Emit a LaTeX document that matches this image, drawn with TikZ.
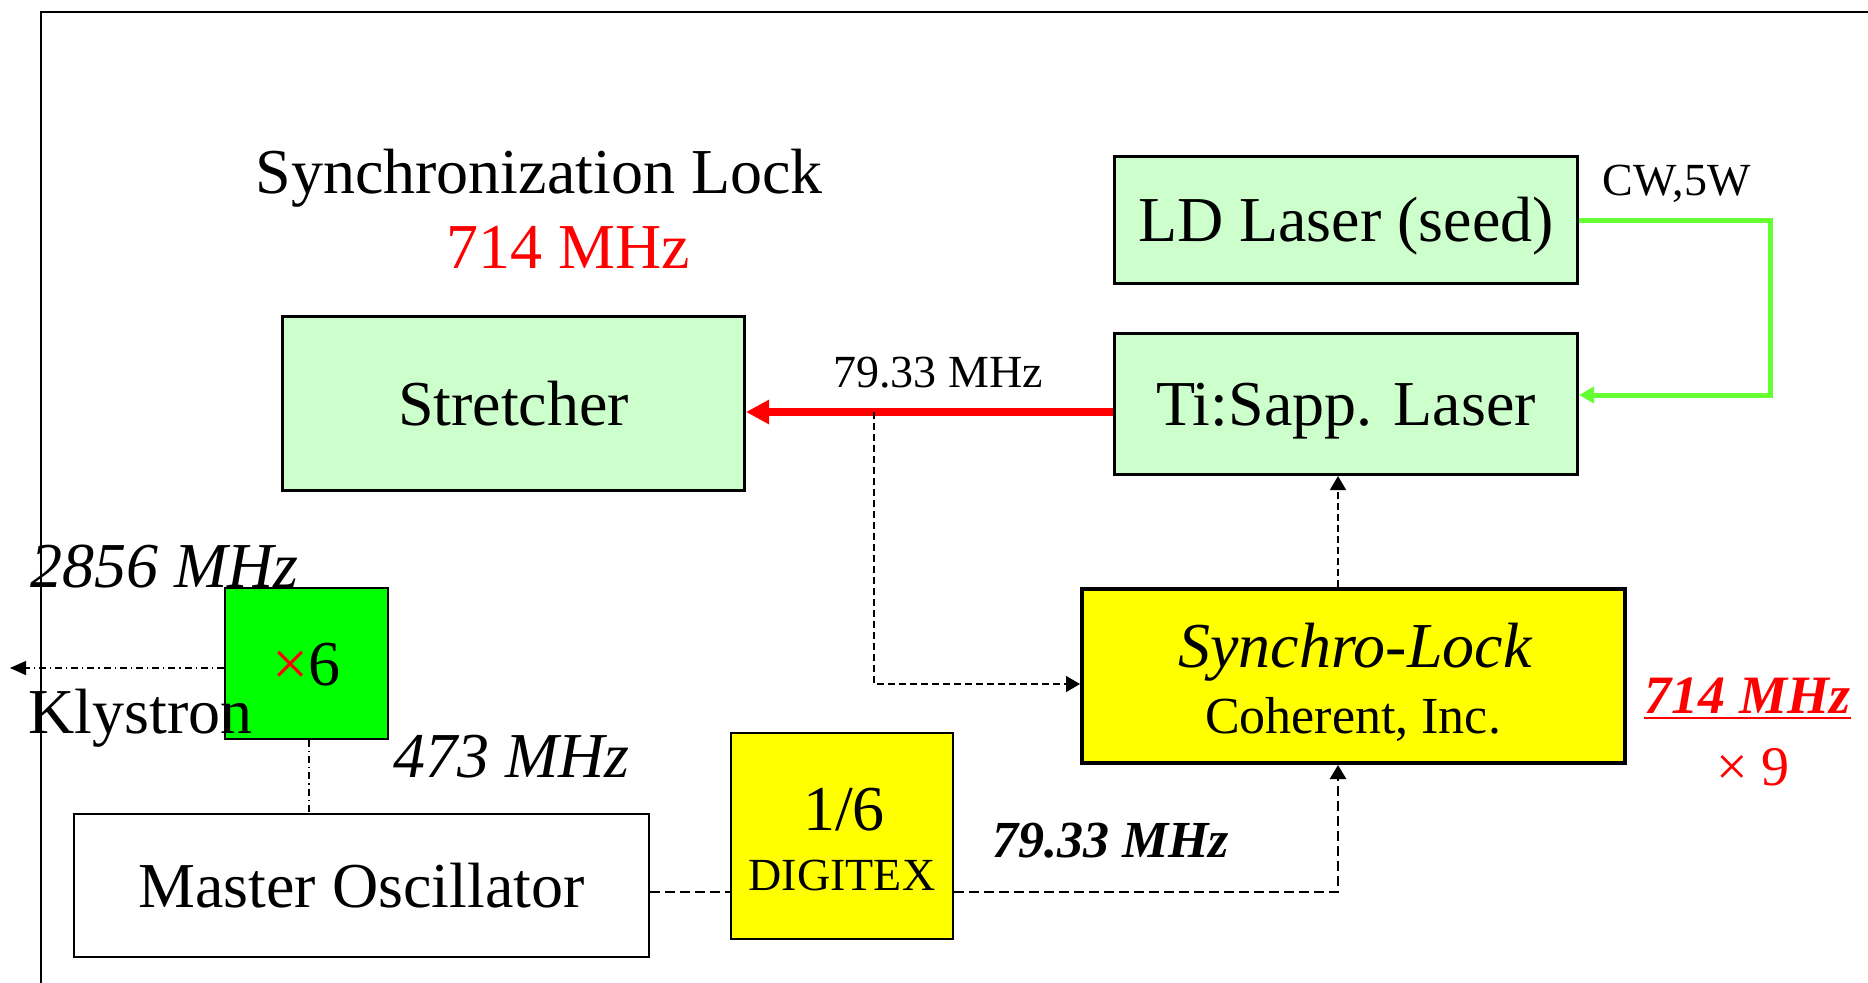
\documentclass[tikz,border=0pt]{standalone}
\usepackage{fontspec}
\setmainfont{Liberation Serif}
\usetikzlibrary{arrows.meta}
\definecolor{lgreen}{RGB}{204,255,204}
\definecolor{lime}{RGB}{102,255,51}
\definecolor{pure}{RGB}{0,255,0}
\definecolor{yel}{RGB}{255,255,0}
\definecolor{rd}{RGB}{255,0,0}
\tikzset{
  fbig/.style={font=\fontsize{32}{38}\selectfont},
  boxbase/.style={draw=black, rectangle, inner sep=0pt, text height=21.5pt, text depth=0pt, fbig},
  greenbox/.style={boxbase, fill=lgreen, line width=1.7pt},
  synbox/.style={draw=black, rectangle, inner sep=0pt, fill=yel, line width=2pt},
  digbox/.style={draw=black, rectangle, inner sep=0pt, fill=yel, line width=1pt},
  multbox/.style={boxbase, fill=pure, line width=0.85pt},
  mobox/.style={boxbase, fill=white, line width=1pt},
  lbl/.style={inner sep=0pt, anchor=base},
  lblw/.style={inner sep=0pt, anchor=base west},
  redarrow/.style={draw=rd, line width=4pt, -{Triangle[length=11.5pt,width=11.5pt]}},
  limearrow/.style={draw=lime, line width=2.5pt, -{Triangle[length=7.5pt,width=8pt]}},
  thindash/.style={line width=0.75pt, dash pattern=on 3.5pt off 2pt, -{Triangle[length=7pt,width=8pt]}},
  thickdash/.style={line width=1.25pt, dash pattern=on 5pt off 2.5pt},
  dashdot/.style={line width=0.75pt, dash pattern=on 3.5pt off 2pt on 0.6pt off 2pt},
}
\begin{document}
\begin{tikzpicture}[x=0.5pt,y=-0.5pt]
\useasboundingbox (0,0) rectangle (1868,982);
% frame
\draw[line width=1pt] (41,995) -- (41,12) -- (1880,12);
% boxes
\node[greenbox, minimum width=230.8pt, minimum height=86.8pt] (St) at (513.5,403.5) {Stretcher};
\node[greenbox, minimum width=231.3pt, minimum height=63.3pt] (LD) at (1346,220) {LD Laser (seed)};
\node[greenbox, minimum width=231.3pt, minimum height=70.3pt] (Ti) at (1346,404) {Ti:Sapp. Laser};
\node[synbox, minimum width=271.5pt, minimum height=87pt] (SL) at (1353.5,676) {};
\node[multbox, minimum width=81.6pt, minimum height=75.7pt] (G) at (306.5,663.5) {{\color{rd}×}6};
\node[mobox, minimum width=287.5pt, minimum height=71.5pt] (MO) at (361.5,885.5) {Master Oscillator};
\node[digbox, minimum width=111pt, minimum height=103pt] (DG) at (842,836) {};
% helper coordinates
\coordinate (tap) at (874,412);
\coordinate (vx) at (1338,0);
\coordinate (hy) at (0,892);
\coordinate (kl) at (10,668);
\coordinate (mx) at (309,0);
% connectors
\draw[redarrow] ([yshift=-4pt]Ti.west) -- ([yshift=-4.25pt]St.east);
\draw[limearrow] (LD.east) -- ++(191,0) |- ([yshift=4.5pt]Ti.east);
\draw[thindash] (tap) |- ([yshift=-4pt]SL.west);
\draw[thindash] (SL.north -| vx) -- (Ti.south -| vx);
\draw[thickdash] (MO.east |- hy) -- (DG.west |- hy);
\draw[thickdash, -{Triangle[length=7pt,width=8pt]}] (DG.east |- hy) -| (SL.south -| vx);
\draw[dashdot, -{Triangle[length=8pt,width=7pt]}] (G.west |- kl) -- (kl);
\draw[dashdot] (G.south -| mx) -- (MO.north -| mx);
% texts
\node[lbl, fbig] (title) at (539,193) {Synchronization Lock};
\node[lbl, fbig, text=rd] (f714a) at (568.5,268) {714 MHz};
\node[lbl, font=\fontsize{23}{28}\selectfont] (f7933a) at (938,387) {79.33 MHz};
\node[lbl, font=\fontsize{23}{28}\selectfont] (cw) at (1676.5,195) {CW,5W};
\node[lblw, font=\fontsize{32}{38}\selectfont\itshape] (f2856) at (30,587) {2856 MHz};
\node[lblw, fbig] (kly) at (28,733) {Klystron};
\node[lblw, font=\fontsize{32}{38}\selectfont\itshape] (f473) at (393,777) {473 MHz};
\node[lbl, font=\fontsize{32}{38}\selectfont\itshape] (slt) at (1355,667) {Synchro-Lock};
\node[lbl, font=\fontsize{26}{31}\selectfont] (coh) at (1353,733) {Coherent, Inc.};
\node[lbl, fbig] (sixth) at (844,830) {1/6};
\node[lbl, font=\fontsize{23}{28}\selectfont] (dgt) at (842,890) {DIGITEX};
\node[lbl, font=\fontsize{26}{31}\selectfont\bfseries\itshape] (f7933b) at (1110.5,857) {79.33 MHz};
\node[lbl, font=\fontsize{27}{32}\selectfont\bfseries\itshape, text=rd] (f714b) at (1747.5,713) {714 MHz};
\draw[rd, line width=1pt] ([yshift=-2.6pt]f714b.base west) -- ([yshift=-2.6pt]f714b.base east);
\node[lbl, font=\fontsize{28}{33}\selectfont, text=rd] (x9) at (1753,785) {× 9};
\end{tikzpicture}
\end{document}
